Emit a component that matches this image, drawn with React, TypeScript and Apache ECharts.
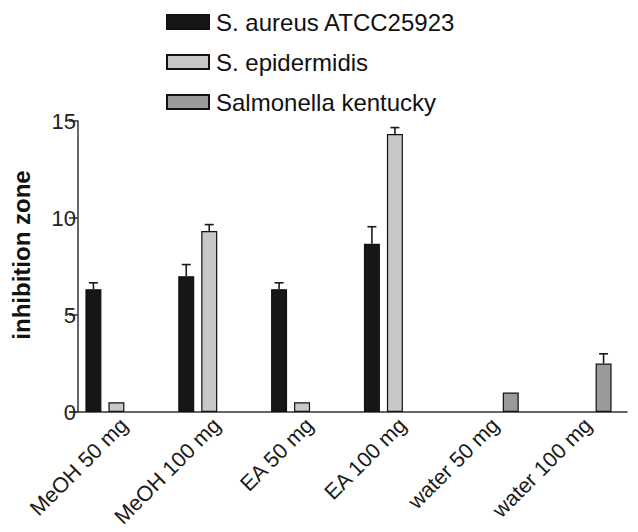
import React, { useEffect, useRef } from "react";
import * as echarts from "echarts";

const categories = ["MeOH 50 mg", "MeOH 100 mg", "EA 50 mg", "EA 100 mg", "water 50 mg", "water 100 mg"];
const seriesNames = ["S. aureus ATCC25923", "S. epidermidis", "Salmonella kentucky"];
const aureus = [6.33, 7.0, 6.33, 8.67, null, null];
const aureusErr = [0.33, 0.6, 0.33, 0.88, null, null];
const epidermidis = [0.5, 9.33, 0.5, 14.33, null, null];
const epidermidisErr = [0, 0.33, 0, 0.33, null, null];
const salmonella = [null, null, null, null, 1.0, 2.5];
const salmonellaErr = [null, null, null, null, 0, 0.5];
const yTicks = { min: 0, max: 15, interval: 5 };

const colors = ["#161616", "#c8c8c8", "#9a9a9a"];
const FONT = "'Liberation Sans', Arial, sans-serif";
const BAR_W = 16;
const BAR_GAP = 7;

function errSeries(values: (number | null)[], errs: (number | null)[], slot: number) {
  const data: number[][] = [];
  values.forEach((v, i) => {
    const e = errs[i];
    if (v != null && e != null && e > 0) data.push([i, v, e]);
  });
  const offset = (slot - 1) * (BAR_W + BAR_GAP);
  return {
    type: "custom",
    name: "err" + slot,
    z: 5,
    silent: true,
    data,
    encode: { x: 0, y: 1 },
    renderItem: (params: any, api: any) => {
      const idx = api.value(0);
      const v = api.value(1);
      const e = api.value(2);
      const base = api.coord([idx, v]);
      const top = api.coord([idx, v + e]);
      const x = base[0] + offset;
      const style = { stroke: "#1a1a1a", lineWidth: 1.6 };
      return {
        type: "group",
        children: [
          { type: "line", shape: { x1: x, y1: base[1], x2: x, y2: top[1] }, style },
          { type: "line", shape: { x1: x - 4.5, y1: top[1], x2: x + 4.5, y2: top[1] }, style },
        ],
      };
    },
  };
}

export default function App() {
  const ref = useRef<HTMLDivElement>(null);
  useEffect(() => {
    document.body.style.margin = "0";
    const chart = echarts.init(ref.current!, null, { renderer: "svg" });
    const barBase = (name: string, data: (number | null)[], color: string) => ({
      type: "bar",
      name,
      data: data.map((d) => (d == null ? "-" : d)),
      barWidth: BAR_W,
      barGap: (BAR_GAP / BAR_W) * 100 + "%",
      itemStyle: { color, borderColor: "#111", borderWidth: 1.2 },
    });
    chart.setOption({
      animation: false,
      backgroundColor: "#ffffff",
      textStyle: { fontFamily: FONT },
      legend: {
        data: seriesNames,
        orient: "vertical",
        left: 166,
        top: 10,
        padding: 0,
        icon: "rect",
        itemWidth: 42,
        itemHeight: 14,
        itemGap: 16,
        selectedMode: false,
        textStyle: { fontSize: 24, color: "#111", fontFamily: FONT, lineHeight: 24, padding: [0, 0, 0, 2] },
      },
      grid: { left: 70, right: 11, top: 121, bottom: 120, containLabel: false, outerBoundsMode: "none" },
      xAxis: {
        type: "category",
        data: categories,
        axisTick: { show: false },
        axisLine: { lineStyle: { color: "#333", width: 1.5 } },
        axisLabel: {
          rotate: 45,
          fontSize: 21.5,
          color: "#1a1a1a",
          margin: 2,
          interval: 0,
          verticalAlign: "top",
          fontFamily: FONT,
        },
      },
      yAxis: {
        type: "value",
        min: yTicks.min,
        max: yTicks.max,
        interval: yTicks.interval,
        offset: -8,
        name: "inhibition zone",
        nameLocation: "middle",
        nameGap: 45,
        nameRotate: 90,
        nameTextStyle: { fontSize: 24, fontWeight: "bold", color: "#111", fontFamily: FONT, padding: [0, 0, 0, 23] },
        splitLine: { show: false },
        axisLine: { show: true, lineStyle: { color: "#333", width: 1.5 } },
        axisTick: { show: true, length: 9, lineStyle: { color: "#333", width: 1.5 } },
        axisLabel: { fontSize: 22, color: "#222", margin: 2, fontFamily: FONT },
      },
      series: [
        barBase(seriesNames[0], aureus, colors[0]),
        barBase(seriesNames[1], epidermidis, colors[1]),
        barBase(seriesNames[2], salmonella, colors[2]),
        errSeries(aureus, aureusErr, 0),
        errSeries(epidermidis, epidermidisErr, 1),
        errSeries(salmonella, salmonellaErr, 2),
      ],
    });
    return () => chart.dispose();
  }, []);
  return <div ref={ref} style={{ position: "absolute", left: 0, top: 0, width: 638, height: 532 }} />;
}
